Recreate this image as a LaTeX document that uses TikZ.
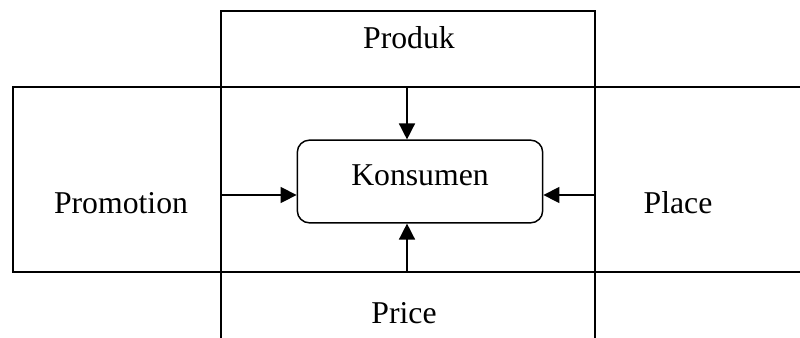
\documentclass[tikz,border=0pt]{standalone}
\usepackage{fontspec}
\setmainfont{Liberation Serif}
\usetikzlibrary{arrows.meta}
\begin{document}
\begin{tikzpicture}
        [x=0.75pt,y=-0.75pt,line width=1.1pt,
         font=\fontsize{23.8}{28}\selectfont,
         lbl/.style={anchor=base},
         pusat/.style={draw,rounded corners=9pt,minimum width=184pt,minimum height=62pt,text depth=10pt},
         panah/.style={-{Triangle[length=12pt,width=12pt]}}]
        \useasboundingbox (0,0) rectangle (800,337);
        \clip (0,0) rectangle (800,337);
        % kotak tegak dan kotak mendatar
        \draw (221,360) |- (595,11) -- (595,360);
        \draw (820,87) -| (13,272) -- (820,272);
        \node[lbl] (prod) at (409,48) {Produk};
        \node[lbl] (promo) at (121,213) {Promotion};
        \node[lbl] (plc) at (678,213) {Place};
        \node[lbl] (prc) at (404,323) {Price};
        \node[pusat] (K) at (420,181.5) {Konsumen};
        \coordinate (pT) at (407,87);
        \coordinate (pB) at (407,272);
        \coordinate (pL) at (222,195);
        \coordinate (pR) at (595,195);
        \draw[panah] (pT) -- (pT |- K.north);
        \draw[panah] (pB) -- (pB |- K.south);
        \draw[panah] (pL) -- (pL -| K.west);
        \draw[panah] (pR) -- (pR -| K.east);
    \end{tikzpicture}
\end{document}
